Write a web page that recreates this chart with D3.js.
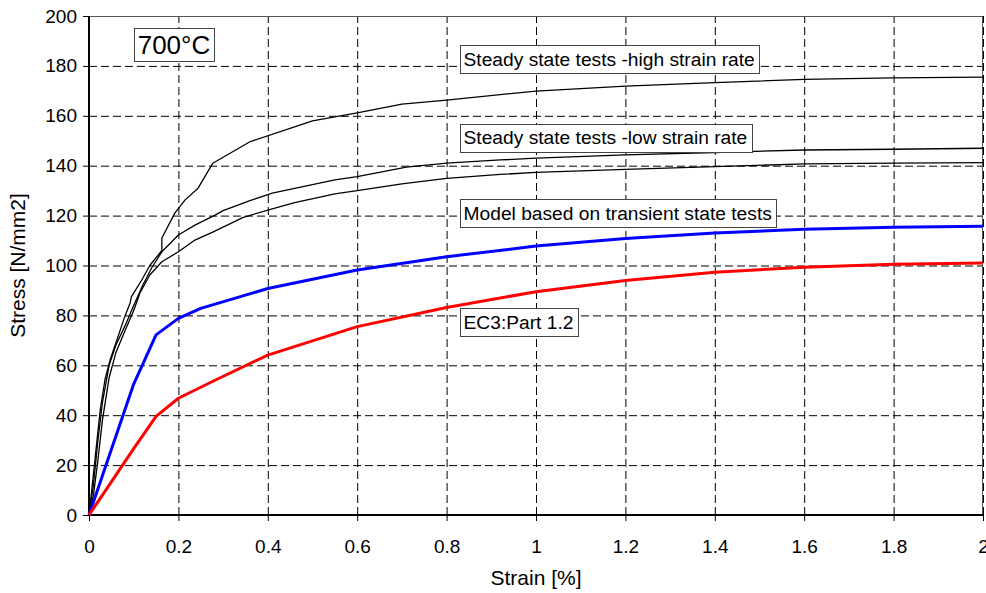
<!DOCTYPE html>
<html>
<head>
<meta charset="utf-8">
<script src="https://cdn.jsdelivr.net/npm/d3@7"></script>
<style>
  body { margin: 0; background: #fff; }
  text { font-family: "Liberation Sans", Arial, sans-serif; }
</style>
</head>
<body>
<div id="chart"></div>
<script>
// strain [%], stress [N/mm2]
var highRate = [[0,0],[0.005,8],[0.015,25],[0.025,42],[0.036,54.5],[0.047,62],[0.062,70],[0.08,79.5],[0.092,85],[0.095,87.5],
  [0.118,94.2],[0.136,100],[0.163,106],[0.163,111],[0.192,121],[0.215,126.3],[0.244,131],[0.277,141],[0.36,149.6],
  [0.5,158],[0.6,161.2],[0.7,164.7],[0.8,166.3],[1.0,169.9],[1.2,171.9],[1.4,173.3],[1.6,174.6],[1.8,175.2],[2.0,175.5]];
var lowRateA = [[0,0],[0.01,12],[0.02,30],[0.03,45],[0.045,60],[0.06,68],[0.081,76],[0.1,84],[0.12,92],[0.14,99],
  [0.163,105.5],[0.2,112.2],[0.237,116.2],[0.282,120.2],[0.3,122],[0.36,126],[0.41,129],[0.55,134.3],[0.6,135.6],
  [0.71,139.4],[0.8,141],[0.92,142.3],[1.0,143],[1.2,144.3],[1.4,145.3],[1.6,146.3],[1.8,146.6],[2.0,147]];
var lowRateB = [[0,0],[0.01,8],[0.02,22],[0.03,38],[0.045,55],[0.06,65],[0.081,74],[0.1,82],[0.114,89],[0.136,96.2],
  [0.163,101.5],[0.2,105.5],[0.237,110.2],[0.278,113.5],[0.345,119.3],[0.4,122.2],[0.46,125.2],[0.55,128.7],[0.6,130],
  [0.7,132.7],[0.8,134.9],[0.92,136.5],[1.0,137.3],[1.2,138.5],[1.4,139.6],[1.6,140.7],[1.8,141],[2.0,141.2]];
var model = [[0,0],[0.1,52.5],[0.15,72.2],[0.2,78.8],[0.25,82.8],[0.4,90.8],[0.6,98.2],[0.8,103.5],[1.0,107.8],
  [1.2,110.8],[1.4,113],[1.6,114.5],[1.8,115.3],[2.0,115.7]];
var ec3 = [[0,0],[0.05,13.3],[0.1,26.6],[0.15,39.5],[0.2,46.8],[0.275,53.4],[0.4,64.1],[0.6,75.5],[0.8,83.2],[1.0,89.5],
  [1.2,94],[1.4,97.3],[1.6,99.3],[1.8,100.5],[2.0,101]];

var xTicks = [0,0.2,0.4,0.6,0.8,1,1.2,1.4,1.6,1.8,2];
var yTicks = [0,20,40,60,80,100,120,140,160,180,200];

var series = [
  {data: highRate, color: "#000", w: 1.3},
  {data: lowRateA, color: "#000", w: 1.3},
  {data: lowRateB, color: "#000", w: 1.3},
  {data: model, color: "#0000ff", w: 3},
  {data: ec3, color: "#ff0000", w: 3}
];

// label boxes: left edge strain, vertical centre stress
var labels = [
  {text: "Steady state tests -high strain rate", at: [0.829, 182.8]},
  {text: "Steady state tests -low strain rate", at: [0.829, 151.3]},
  {text: "Model based on transient state tests", at: [0.829, 120.9]},
  {text: "EC3:Part 1.2", at: [0.829, 77.4]}
];

var width = 986, height = 593;
var margin = {left: 89, right: 3, top: 16, bottom: 78};

var svg = d3.select("#chart").append("svg")
  .attr("width", width)
  .attr("height", height);

var x = d3.scaleLinear().domain([0, 2]).range([margin.left, width - margin.right]);
var y = d3.scaleLinear().domain([0, 200]).range([height - margin.bottom, margin.top]);

// grid
svg.append("g").selectAll("line").data(yTicks.slice(1))
  .join("line")
  .attr("x1", x(0)).attr("x2", x(2))
  .attr("y1", d => y(d) + 0.5).attr("y2", d => y(d) + 0.5)
  .attr("stroke", "#000").attr("stroke-dasharray", "8,4");
svg.append("g").selectAll("line").data(xTicks.slice(1))
  .join("line")
  .attr("x1", d => x(d) + 0.5).attr("x2", d => x(d) + 0.5)
  .attr("y1", y(0)).attr("y2", y(200))
  .attr("stroke", "#000").attr("stroke-dasharray", "8,4");

// plot border top/right
svg.append("path")
  .attr("d", "M" + x(0) + "," + (y(200) + 0.5) + "H" + (x(2) - 0.5) + "V" + y(0))
  .attr("fill", "none").attr("stroke", "#555").attr("stroke-width", 1);

// axes
var xAxis = svg.append("g")
  .attr("transform", "translate(0," + y(0) + ")")
  .call(d3.axisBottom(x).tickValues(xTicks).tickSize(6).tickPadding(19).tickFormat(d3.format("")));
var yAxis = svg.append("g")
  .attr("transform", "translate(" + x(0) + ",0)")
  .call(d3.axisLeft(y).tickValues(yTicks).tickSize(6).tickPadding(6));
[xAxis, yAxis].forEach(function (a) {
  a.select(".domain").attr("stroke", "#000").attr("stroke-width", 2);
  a.selectAll(".tick line").attr("stroke", "#000");
  a.selectAll("text").attr("font-size", 19).attr("fill", "#000")
    .attr("font-family", "'Liberation Sans', Arial, sans-serif");
});
xAxis.select(".domain").attr("d", "M" + x(0) + ",0H" + x(2));
yAxis.select(".domain").attr("d", "M0," + y(0) + "V" + y(200));

// curves
var line = d3.line().x(d => x(d[0])).y(d => y(d[1]));
svg.append("g").selectAll("path").data(series)
  .join("path")
  .attr("d", d => line(d.data))
  .attr("fill", "none")
  .attr("stroke", d => d.color)
  .attr("stroke-width", d => d.w)
  .attr("stroke-linejoin", "round");

// label boxes
labels.forEach(function (l) {
  var g = svg.append("g");
  var t = g.append("text")
    .attr("x", x(l.at[0]) + 4)
    .attr("y", y(l.at[1]))
    .attr("dy", "0.35em")
    .attr("font-size", 19.2)
    .attr("fill", "#000")
    .text(l.text);
  var bb = t.node().getBBox();
  g.insert("rect", "text")
    .attr("x", Math.round(x(l.at[0])) + 0.5)
    .attr("y", Math.round(y(l.at[1]) - 14) + 0.5)
    .attr("width", Math.round(bb.width + 8))
    .attr("height", 28)
    .attr("fill", "#fff")
    .attr("stroke", "#444");
});

// temperature box
var tg = svg.append("g");
var tt = tg.append("text")
  .attr("x", x(0.1) + 4).attr("y", y(188.4))
  .attr("dy", "0.36em")
  .attr("font-size", 26).attr("fill", "#000")
  .text("700°C");
var tb = tt.node().getBBox();
tg.insert("rect", "text")
  .attr("x", Math.round(x(0.1)) + 0.5)
  .attr("y", Math.round(y(188.4) - 17) + 0.5)
  .attr("width", Math.round(tb.width + 7))
  .attr("height", 33)
  .attr("fill", "#fff").attr("stroke", "#444");

// axis titles
svg.append("text")
  .attr("x", x(1)).attr("y", 585)
  .attr("text-anchor", "middle")
  .attr("font-size", 21)
  .text("Strain [%]");
svg.append("text")
  .attr("transform", "translate(25," + y(100) + ") rotate(-90)")
  .attr("text-anchor", "middle")
  .attr("font-size", 21)
  .text("Stress [N/mm2]");
</script>
</body>
</html>
